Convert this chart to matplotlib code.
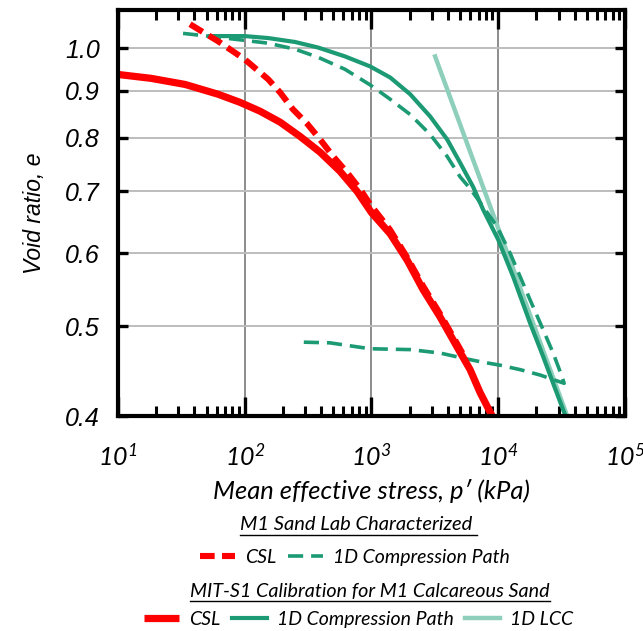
import math
import matplotlib
matplotlib.use("Agg")
import matplotlib.pyplot as plt
from matplotlib.lines import Line2D
from matplotlib.ticker import FixedLocator, LogLocator, NullFormatter, FuncFormatter

plt.rcParams['mathtext.fontset'] = 'custom'
plt.rcParams['mathtext.it'] = 'Lato:italic'
plt.rcParams['mathtext.rm'] = 'Lato:italic'

# --- lab characterized M1 sand ---
lab_csl_p = [37.0, 61.5, 100, 152.8, 190, 240, 310, 393, 498, 641, 813, 975, 1403, 1910, 2553, 3475, 4738, 5300]
lab_csl_e = [1.062, 1.018, 0.973, 0.926, 0.896, 0.859, 0.829, 0.797, 0.764, 0.734, 0.704, 0.678, 0.636, 0.594, 0.553, 0.516, 0.479, 0.466]

lab_1d_p = [32.6, 61.5, 100, 152.8, 249, 379, 619, 975, 1403, 2018, 2901, 3951, 5000, 6000, 7601, 9802,
            12420, 17860, 22600, 27100, 31900, 33100,
            27100, 21430, 14890, 10350, 7195, 5285, 3475, 2018, 975, 471, 264]
lab_1d_e = [1.038, 1.028, 1.020, 1.013, 0.998, 0.978, 0.949, 0.913, 0.881, 0.848, 0.807, 0.764, 0.726, 0.705, 0.674, 0.641,
            0.600, 0.534, 0.496, 0.468, 0.441, 0.434,
            0.438, 0.443, 0.449, 0.454, 0.458, 0.462, 0.468, 0.472, 0.473, 0.480, 0.481]

# --- MIT-S1 calibration ---
mit_csl_p = [10, 18.2, 33.8, 61.5, 91.9, 132, 190, 273, 393, 565, 770, 1000, 1403, 1910, 2553, 3475, 4738, 5998, 7195, 8953]
mit_csl_e = [0.937, 0.928, 0.914, 0.892, 0.874, 0.855, 0.832, 0.803, 0.772, 0.736, 0.700, 0.664, 0.630, 0.590, 0.548, 0.512, 0.475, 0.449, 0.424, 0.400]

mit_1d_p = [53.2, 100, 152.8, 249, 379, 619, 975, 1403, 2018, 2901, 3951, 5000, 6338, 7601, 9980, 13110, 17860, 22600, 27100, 33700]
mit_1d_e = [1.031, 1.031, 1.026, 1.016, 1.002, 0.980, 0.956, 0.930, 0.892, 0.844, 0.797, 0.752, 0.708, 0.669, 0.621, 0.566, 0.504, 0.464, 0.434, 0.401]

mit_lcc_p = [3177, 35000]
mit_lcc_e = [0.980, 0.400]

y_ticks = [0.4, 0.5, 0.6, 0.7, 0.8, 0.9, 1.0]

red = '#ff0000'
green = '#1b9a74'
light_green = '#8dcfbb'

fig = plt.figure(figsize=(6.43, 6.31), dpi=100)
ax = fig.add_axes([0.1835, 0.3407, 0.7885, 0.6433])
ax.set_xscale('log')
ax.set_yscale('log')
ax.set_xlim(10, 1e5)
ax.set_ylim(0.4, 1.10)

ln_lab_csl, = ax.plot(lab_csl_p, lab_csl_e, color=red, lw=4.4, dashes=(2.4, 1.2),
                      solid_capstyle='butt', label='CSL', zorder=4)
ln_lab_1d, = ax.plot(lab_1d_p, lab_1d_e, color=green, lw=2.6, dashes=(4.2, 2.2),
                     label='1D Compression Path', zorder=3)
ln_mit_csl, = ax.plot(mit_csl_p, mit_csl_e, color=red, lw=5.2, solid_capstyle='butt',
                      label='CSL', zorder=5)
ln_mit_1d, = ax.plot(mit_1d_p, mit_1d_e, color=green, lw=3.0, label='1D Compression Path', zorder=3)
ln_lcc, = ax.plot(mit_lcc_p, mit_lcc_e, color=light_green, lw=3.2, label='1D LCC', zorder=2)

# grid
for xv in [1e2, 1e3, 1e4]:
    ax.axvline(xv, color='#8c8c8c', lw=1.4, zorder=1)
for yv in y_ticks[1:]:
    ax.axhline(yv, color='#bdbdbd', lw=1.4, zorder=1)

# ticks
ax.xaxis.set_major_locator(LogLocator(base=10, numticks=10))
ax.xaxis.set_minor_locator(LogLocator(base=10, subs=range(2, 10), numticks=10))
ax.xaxis.set_minor_formatter(NullFormatter())
ax.xaxis.set_major_formatter(FuncFormatter(lambda v, pos: r'$10^{%d}$' % round(math.log10(v))))
ax.yaxis.set_major_locator(FixedLocator(y_ticks))
ax.yaxis.set_major_formatter(FuncFormatter(lambda v, pos: '%.1f' % v))
ax.yaxis.set_minor_locator(FixedLocator([1.0]))
ax.yaxis.set_minor_formatter(NullFormatter())

ax.tick_params(axis='x', which='major', direction='in', length=14, width=2.4, top=True, bottom=True, pad=20)
ax.tick_params(axis='x', which='minor', direction='in', length=7, width=2.2, top=True, bottom=True)
ax.tick_params(axis='y', which='major', direction='in', length=7, width=2.4, left=True, right=True, pad=13)
ax.tick_params(axis='y', which='minor', direction='in', length=14, width=2.4, left=True, right=True)
for lab in ax.get_xticklabels():
    lab.set_fontsize(18)
for lab in ax.get_yticklabels():
    lab.set_fontfamily('Liberation Sans')
    lab.set_fontstyle('italic')
    lab.set_fontsize(18)

for sp in ax.spines.values():
    sp.set_linewidth(3)
    sp.set_zorder(6)

ax.set_xlabel("Mean effective stress, p\u2032 (kPa)", family='Lato', style='italic', fontsize=18.4, labelpad=6)
ax.set_ylabel("Void ratio, e", family='Liberation Sans', style='italic', fontsize=16.5, labelpad=14)

# legend block below the axes
t1 = fig.text(0.557, 0.168, "M1 Sand Lab Characterized ", family='Lato', style='italic',
              fontsize=14.5, ha='center', va='center')
t2 = fig.text(0.575, 0.063, "MIT-S1 Calibration for M1 Calcareous Sand", family='Lato', style='italic',
              fontsize=14.2, ha='center', va='center')

leg_font = {'family': 'Lato', 'style': 'italic', 'size': 14}
fig.legend(handles=[ln_lab_csl, ln_lab_1d], loc='center', bbox_to_anchor=(0.552, 0.117), ncol=2,
           frameon=False, prop=leg_font, handlelength=1.8, handletextpad=0.5, columnspacing=0.6)
fig.legend(handles=[ln_mit_csl, ln_mit_1d, ln_lcc], loc='center', bbox_to_anchor=(0.558, 0.019), ncol=3,
           frameon=False, prop=leg_font, handlelength=1.8, handletextpad=0.5, columnspacing=0.6)

# underline the two legend headings
fig.canvas.draw()
renderer = fig.canvas.get_renderer()
for t in (t1, t2):
    bb = t.get_window_extent(renderer).transformed(fig.transFigure.inverted())
    y_line = bb.y0 - 0.002
    fig.add_artist(Line2D([bb.x0, bb.x1], [y_line, y_line], transform=fig.transFigure,
                          color='black', lw=1.0))

fig.savefig('out.png', dpi=100)
